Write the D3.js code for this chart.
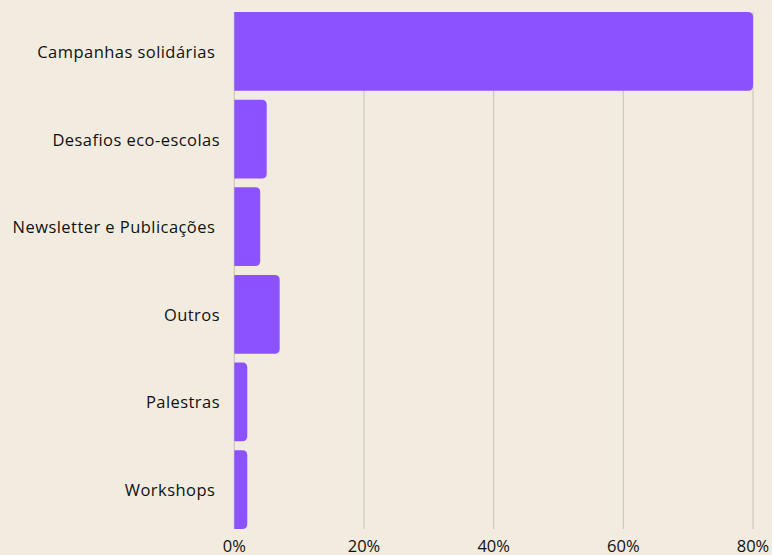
<!DOCTYPE html>
<html>
<head>
<meta charset="utf-8">
<script src="https://cdn.jsdelivr.net/npm/d3@7"></script>
<style>
  html, body { margin: 0; padding: 0; background: #f2ece0; overflow: hidden; }
  svg { display: block; }
  text { font-family: "Open Sans", "Noto Sans", sans-serif; fill: #111; }
</style>
</head>
<body>
<svg id="chart" width="772" height="555"></svg>
<script>
const categories = ["Campanhas solidárias ", "Desafios eco-escolas", "Newsletter e Publicações ", "Outros", "Palestras", "Workshops "];
const values = [80, 5, 4, 7, 2, 2];
const tickValues = [0, 20, 40, 60, 80];
const tickLabels = ["0%", "20%", "40%", "60%", "80%"];

const svg = d3.select("#chart");
const W = 772, H = 555;
svg.append("rect").attr("width", W).attr("height", H).attr("fill", "#f2ece0");

const x = d3.scaleLinear().domain([0, 80]).range([234.3, 753]);
const y = d3.scaleBand().domain(categories).range([12, 529]).paddingInner(0.1).paddingOuter(0);

// gridlines
svg.append("g").selectAll("line").data(tickValues).join("line")
  .attr("x1", d => x(d)).attr("x2", d => x(d))
  .attr("y1", 12).attr("y2", 529)
  .attr("stroke", "#cdc8bb").attr("stroke-width", 1.2);

// bars with rounded right corners
const r = 5;
function barPath(x0, x1, y0, h) {
  const rr = Math.min(r, (x1 - x0) / 2, h / 2);
  return `M${x0},${y0}H${x1 - rr}Q${x1},${y0} ${x1},${y0 + rr}V${y0 + h - rr}Q${x1},${y0 + h} ${x1 - rr},${y0 + h}H${x0}Z`;
}
svg.append("g").selectAll("path").data(categories).join("path")
  .attr("d", (c, i) => barPath(x(0), x(values[i]), y(c), y.bandwidth()))
  .attr("fill", "#8c52ff");

// category labels
svg.append("g").selectAll("text").data(categories).join("text")
  .attr("x", 220)
  .attr("y", c => y(c) + y.bandwidth() / 2)
  .attr("text-anchor", "end")
  .attr("dominant-baseline", "central")
  .style("white-space", "pre")
  .attr("font-size", 16.5)
  .attr("letter-spacing", 0.45)
  .attr("font-weight", 500)
  .text(c => c);

// x tick labels
svg.append("g").selectAll("text").data(tickValues).join("text")
  .attr("x", d => x(d))
  .attr("y", 552)
  .attr("text-anchor", "middle")
  .attr("font-size", 16.5)
  .attr("font-weight", 500)
  .text((d, i) => tickLabels[i]);
</script>
</body>
</html>
